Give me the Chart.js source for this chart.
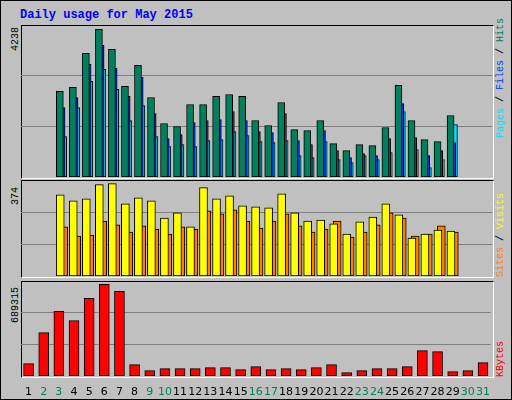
<!DOCTYPE html>
<html><head><meta charset="utf-8">
<script src="https://cdn.jsdelivr.net/npm/chart.js@4"></script>
<style>
body{margin:0;background:#fff}
#frame{position:absolute;left:0;top:0;width:510px;height:398px;border:1px solid #000;background:#C0C0C0}
.panel{position:absolute;left:20px;width:471px;border-top:1px solid #000;border-left:1px solid #000;border-right:1px solid #fff;border-bottom:1px solid #fff}
canvas{position:absolute}
.rl{position:absolute;font:10px "Liberation Mono",monospace;white-space:nowrap;transform:rotate(-90deg);transform-origin:left top}
.title{position:absolute;left:19px;top:7px;font:bold 12px "Liberation Mono",monospace;color:#0000FF}
</style></head><body>
<div id="frame">
<div class="title">Daily usage for May 2015</div>
<div class="panel" style="top:24px;height:152px"></div>
<div class="panel" style="top:179px;height:96px"></div>
<div class="panel" style="top:280px;height:95px"></div>
<div class="rl" style="left:9px;top:50px;color:#000">4238</div>
<div class="rl" style="left:9px;top:204px;color:#000">374</div>
<div class="rl" style="left:9px;top:322px;color:#000">689315</div>
<div class="rl" style="left:494px;top:137px"><span style="color:#00E0FF">Pages</span> / <span style="color:#0040FF">Files</span> / <span style="color:#00805C">Hits</span></div>
<div class="rl" style="left:494px;top:276px"><span style="color:#FF8000">Sites</span> / <span style="color:#FFFF00">Visits</span></div>
<div class="rl" style="left:494px;top:376px;color:#FF0000">KBytes</div>
</div>
<canvas id="c1" style="left:21px;top:25px;width:471px;height:152px"></canvas>
<canvas id="c2" style="left:21px;top:180px;width:471px;height:96px"></canvas>
<canvas id="c3" style="left:21px;top:281px;width:471px;height:118px"></canvas>
<script>
const days=["1","2","3","4","5","6","7","8","9","10","11","12","13","14","15","16","17","18","19","20","21","22","23","24","25","26","27","28","29","30","31"];
const weekend=["2","3","9","10","16","17","23","24","30","31"];
const hits=[2455,2570,3548,4238,3663,2598,3202,2282,1534,1448,2081,2081,2311,2368,2311,1620,1477,2138,1361,1333,1620,959,757,930,901,1419,2627,1620,1074,1016,1764];
const files=[1994,2282,3231,3778,3116,2311,2857,1822,1103,1218,1563,1620,1649,1879,1620,1304,1275,1822,1045,930,1333,757,556,671,614,1103,2109,1131,614,757,988];
const pages=[1160,1994,2742,3087,2512,1620,2052,1160,873,930,873,1045,1074,1304,1189,1016,988,1045,614,556,1016,499,412,614,499,700,1879,786,268,499,1505];
const visits=[329,305,313,370,374,292,317,305,235,256,199,358,313,325,284,280,276,333,256,223,227,211,170,219,239,292,248,154,170,186,182];
const sites=[199,162,166,223,207,178,203,190,170,199,190,264,252,268,223,194,223,252,203,178,190,223,158,178,207,256,235,162,170,203,178];
const kbytes=[93000,327000,486000,418000,584000,689315,637000,86000,40000,55000,55000,55000,63000,63000,48000,70000,48000,55000,48000,63000,86000,25000,40000,55000,55000,70000,191000,184000,33000,40000,101000];

function thirds(max){return s=>{s.ticks=[{value:max/3},{value:2*max/3}];};}
function yax(max){return {min:0,max:max,afterBuildTicks:thirds(max),border:{display:false},
  grid:{color:'#808080',lineWidth:1,drawTicks:false},ticks:{display:false},afterFit:s=>{s.width=0;}};}
const base={animation:false,responsive:false,devicePixelRatio:1,plugins:{legend:{display:false},tooltip:{enabled:false}},layout:{padding:0}};
// offset datasets: shift within day slot (in day units)
function shifted(data,c,off,thick){
  return {data:data.map((v,i)=>({x:i+1+off,y:v})),backgroundColor:c,borderColor:'#000',borderWidth:1,borderSkipped:false,grouped:false,barThickness:thick};
}
function mkOff(id,h,datasets,max){
  const cv=document.getElementById(id);cv.width=471;cv.height=h;
  return new Chart(cv,{type:'bar',data:{datasets:datasets},
    options:Object.assign({},base,{scales:{x:{type:'linear',min:0.5,max:31.5,display:false},y:yax(max)}})});
}
mkOff('c1',152,[shifted(hits,'#00805C',-0.1,7),shifted(files,'#0040FF',0.03,7),shifted(pages,'#00E0FF',0.16,7)],4361);
mkOff('c2',96,[shifted(visits,'#FFFF00',-0.07,8),shifted(sites,'#FF8000',0.19,8)],389);
const cv3=document.getElementById('c3');cv3.width=471;cv3.height=118;
new Chart(cv3,{type:'bar',data:{labels:days,datasets:[{data:kbytes,backgroundColor:'#FF0000',borderColor:'#000',borderWidth:1,borderSkipped:false,barThickness:10}]},
  options:Object.assign({},base,{scales:{x:{grid:{display:false},border:{display:false},
    ticks:{padding:2,font:{family:'DejaVu Sans',size:11},color:c=>weekend.includes(days[c.index])?'#00805C':'#000',maxRotation:0,autoSkip:false},
    afterFit:s=>{s.height=23;}},y:yax(715000)}})});
</script></body></html>
